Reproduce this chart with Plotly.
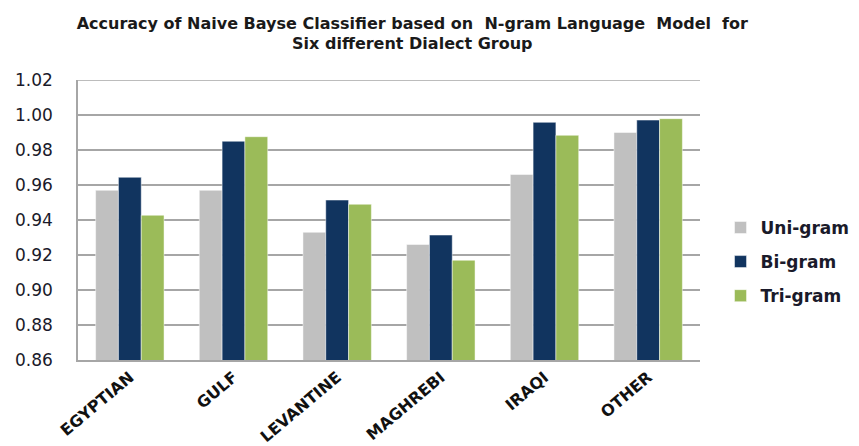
import plotly.graph_objects as go

categories = ["EGYPTIAN", "GULF", "LEVANTINE", "MAGHREBI", "IRAQI", "OTHER"]
uni_gram = [0.957, 0.957, 0.933, 0.926, 0.966, 0.990]
bi_gram = [0.9644, 0.985, 0.9514, 0.9314, 0.9958, 0.9971]
tri_gram = [0.9427, 0.9876, 0.949, 0.917, 0.9884, 0.9979]
y_ticks = [0.86, 0.88, 0.90, 0.92, 0.94, 0.96, 0.98, 1.00, 1.02]

series = [("Uni-gram", uni_gram, "#C0C0C0"),
          ("Bi-gram", bi_gram, "#11345F"),
          ("Tri-gram", tri_gram, "#9BBB59")]

fig = go.Figure()
for i, (name, vals, col) in enumerate(series):
    fig.add_trace(go.Bar(
        x=categories, y=vals, name=name, legendgroup=f"g{i}",
        marker=dict(color=col, line=dict(color="rgba(255,255,255,0.6)", width=0.8)),
    ))

fig.update_layout(
    width=859, height=446,
    margin=dict(l=78, r=159, t=80, b=86, autoexpand=False),
    plot_bgcolor="white", paper_bgcolor="white",
    barmode="group", bargap=0.34, bargroupgap=0,
    title=dict(
        text="<b>Accuracy of Naive Bayse Classifier based on  N-gram Language  Model  for<br>Six different Dialect Group</b>",
        x=0.480, xanchor="center", y=0.936, yanchor="top",
        font=dict(family="DejaVu Sans, sans-serif", size=16, color="#1a1a1a"),
    ),
    legend=dict(
        x=1.033, y=0.536, xanchor="left", yanchor="top",
        font=dict(family="DejaVu Sans, sans-serif", size=17, color="#1a1a2a", weight="bold"),
        traceorder="grouped", tracegroupgap=9,
        itemwidth=30,
    ),
    xaxis=dict(
        tickangle=-40, automargin=False,
        tickfont=dict(family="DejaVu Sans, sans-serif", size=16, color="#111", weight="bold"),
        showline=True, linecolor="#A6A6A6", linewidth=1.5,
        ticks="",
    ),
    yaxis=dict(
        range=[0.86, 1.02], tickvals=y_ticks, automargin=False,
        ticktext=[f"{v:.2f}" for v in y_ticks],
        tickfont=dict(family="DejaVu Sans, Verdana, sans-serif", size=17, color="#1a1a2a"),
        ticklabelstandoff=20,
        showgrid=True, gridcolor="#A6A6A6", gridwidth=1.5,
        showline=True, linecolor="#A6A6A6", linewidth=1.5,
        ticks="", ticklen=0, zeroline=False,
    ),
)
fig.add_shape(type="line", xref="paper", yref="y", x0=0, x1=1, y0=1.02, y1=1.02,
              line=dict(color="#A6A6A6", width=1.5))

fig.write_html("out.html", config={"displayModeBar": False},
               post_script="document.body.style.margin='0';")
